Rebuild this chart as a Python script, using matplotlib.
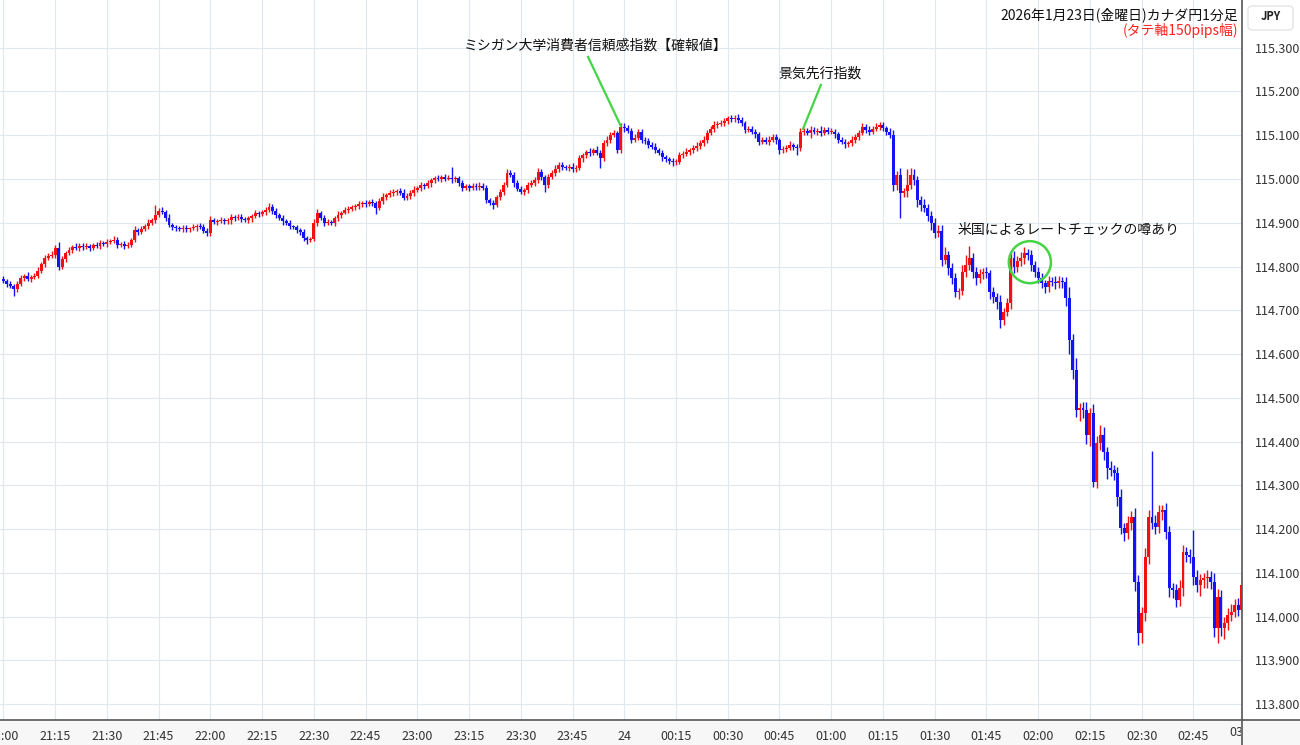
import numpy as np
import matplotlib
matplotlib.use("Agg")
import matplotlib.pyplot as plt
from matplotlib.patches import Ellipse, FancyBboxPatch, Rectangle
from matplotlib.lines import Line2D
from matplotlib.transforms import Bbox, TransformedBbox, blended_transform_factory

plt.rcParams['font.family'] = ['Noto Sans CJK JP', 'DejaVu Sans']

# CAD/JPY 1分足 2026-01-23 21:00 - 02:59 (終値, 画像から読み取り)
first_open = 114.772
close = [
    114.768, 114.760, 114.756, 114.748, 114.759, 114.774, 114.778, 114.772, 114.776, 114.779, 114.790, 114.806, 114.820, 114.824, 114.826,
    114.842, 114.800, 114.818, 114.830, 114.838, 114.845, 114.842, 114.848, 114.844, 114.846, 114.843, 114.850, 114.848, 114.854, 114.852,
    114.856, 114.859, 114.861, 114.850, 114.852, 114.847, 114.850, 114.860, 114.884, 114.880, 114.886, 114.892, 114.900, 114.906, 114.918,
    114.928, 114.925, 114.912, 114.896, 114.890, 114.888, 114.886, 114.889, 114.885, 114.887, 114.890, 114.893, 114.890, 114.882, 114.876,
    114.906, 114.902, 114.904, 114.907, 114.903, 114.906, 114.913, 114.910, 114.914, 114.908, 114.906, 114.910, 114.916, 114.922, 114.920,
    114.924, 114.930, 114.936, 114.928, 114.918, 114.912, 114.904, 114.900, 114.892, 114.890, 114.883, 114.879, 114.866, 114.861, 114.863,
    114.900, 114.922, 114.912, 114.900, 114.902, 114.900, 114.910, 114.918, 114.923, 114.930, 114.932, 114.936, 114.938, 114.942, 114.945,
    114.942, 114.947, 114.946, 114.934, 114.950, 114.960, 114.964, 114.968, 114.970, 114.973, 114.968, 114.957, 114.962, 114.968, 114.976,
    114.980, 114.986, 114.984, 114.990, 114.998, 115.002, 115.000, 115.004, 115.001, 115.003, 114.999, 115.002, 114.990, 114.980, 114.983,
    114.980, 114.984, 114.982, 114.985, 114.980, 114.952, 114.946, 114.940, 114.958, 114.970, 114.986, 115.014, 115.010, 114.990, 114.978,
    114.970, 114.974, 114.986, 114.992, 114.998, 115.016, 115.004, 114.986, 115.005, 115.014, 115.023, 115.032, 115.028, 115.025, 115.028,
    115.022, 115.025, 115.048, 115.054, 115.062, 115.060, 115.066, 115.060, 115.048, 115.082, 115.090, 115.100, 115.104, 115.066, 115.119,
    115.116, 115.110, 115.090, 115.094, 115.108, 115.090, 115.086, 115.078, 115.074, 115.066, 115.060, 115.050, 115.046, 115.042, 115.039,
    115.040, 115.055, 115.058, 115.062, 115.066, 115.070, 115.076, 115.082, 115.090, 115.105, 115.114, 115.123, 115.126, 115.128, 115.132,
    115.139, 115.136, 115.140, 115.135, 115.128, 115.112, 115.114, 115.108, 115.102, 115.085, 115.089, 115.085, 115.090, 115.096, 115.088,
    115.066, 115.068, 115.072, 115.078, 115.074, 115.070, 115.108, 115.110, 115.106, 115.112, 115.108, 115.110, 115.106, 115.112, 115.108,
    115.108, 115.102, 115.090, 115.085, 115.080, 115.082, 115.090, 115.096, 115.106, 115.119, 115.112, 115.108, 115.114, 115.118, 115.123,
    115.116, 115.108, 115.100, 114.986, 115.010, 114.968, 114.972, 114.986, 115.010, 114.998, 114.952, 114.940, 114.934, 114.916, 114.900,
    114.877, 114.882, 114.815, 114.826, 114.797, 114.774, 114.742, 114.744, 114.788, 114.804, 114.820, 114.788, 114.774, 114.782, 114.788,
    114.785, 114.742, 114.730, 114.720, 114.678, 114.696, 114.717, 114.820, 114.800, 114.812, 114.820, 114.830, 114.826, 114.804, 114.788,
    114.774, 114.762, 114.753, 114.768, 114.765, 114.762, 114.768, 114.764, 114.728, 114.632, 114.564, 114.472, 114.476, 114.472, 114.415,
    114.465, 114.308, 114.397, 114.415, 114.376, 114.340, 114.336, 114.328, 114.273, 114.203, 114.191, 114.214, 114.228, 114.080, 113.963,
    114.008, 114.136, 114.228, 114.214, 114.205, 114.240, 114.244, 114.193, 114.066, 114.060, 114.038, 114.066, 114.148, 114.141, 114.136,
    114.091, 114.072, 114.084, 114.088, 114.091, 114.080, 113.974, 114.045, 113.974, 113.986, 114.004, 114.011, 114.026, 114.016, 114.072,
]
# ヒゲの長さ (pips)
up_wick = [
    0.6, 0.4, 0.8, 0.5, 0.7, 0.6, 0.4, 0.9, 0.5, 0.6, 0.8, 0.5, 0.7, 0.6, 0.9,
    0.8, 1.4, 0.6, 0.5, 0.7, 0.4, 0.9, 0.6, 0.5, 0.8, 0.6, 0.4, 0.7, 0.6, 0.5,
    0.6, 0.5, 0.8, 0.6, 0.4, 0.7, 0.5, 0.6, 0.9, 0.5, 0.7, 0.6, 0.8, 0.5, 2.2,
    0.6, 0.8, 0.5, 0.7, 0.4, 0.6, 0.5, 0.7, 0.6, 0.4, 0.8, 0.5, 0.6, 0.7, 0.5,
    0.9, 0.6, 0.5, 0.7, 0.4, 0.6, 0.8, 0.5, 0.6, 0.7, 0.5, 0.6, 0.4, 0.8, 0.6,
    0.5, 0.7, 0.9, 0.6, 0.5, 0.4, 0.6, 0.5, 0.7, 0.4, 0.6, 0.5, 0.6, 0.4, 0.5,
    0.8, 0.9, 0.6, 0.5, 0.7, 0.4, 0.6, 0.8, 0.5, 0.6, 0.7, 0.5, 0.6, 0.8, 0.5,
    0.6, 0.5, 0.7, 0.4, 0.6, 0.8, 0.5, 0.6, 0.7, 0.5, 0.6, 0.9, 0.5, 0.6, 0.7,
    0.5, 0.8, 0.6, 0.7, 0.5, 0.6, 0.8, 0.5, 0.7, 0.6, 2.5, 0.6, 0.5, 0.7, 0.6,
    0.5, 0.7, 0.6, 0.8, 0.5, 0.6, 0.4, 0.7, 0.6, 0.8, 0.7, 0.9, 0.6, 0.5, 0.7,
    0.6, 0.5, 0.8, 0.6, 0.7, 0.9, 0.6, 0.5, 0.7, 0.6, 0.8, 0.7, 0.6, 0.5, 0.7,
    0.8, 0.6, 0.7, 0.6, 0.5, 0.8, 0.6, 1.0, 0.7, 0.6, 0.8, 0.7, 0.9, 0.6, 0.8,
    0.9, 0.7, 0.6, 0.8, 0.7, 0.6, 0.5, 0.7, 0.6, 0.8, 0.5, 0.7, 0.6, 0.5, 0.6,
    0.5, 0.7, 0.6, 0.8, 0.5, 0.7, 0.9, 0.6, 0.8, 0.7, 0.6, 0.9, 0.7, 0.6, 0.8,
    0.6, 0.8, 0.7, 0.9, 0.6, 0.5, 0.7, 0.8, 0.6, 0.5, 0.7, 0.6, 0.8, 0.7, 0.6,
    0.5, 0.7, 0.6, 0.8, 0.5, 0.6, 0.9, 0.7, 0.6, 0.8, 0.7, 0.6, 1.0, 0.7, 0.6,
    0.8, 0.6, 0.5, 0.7, 0.6, 0.5, 0.8, 0.6, 0.7, 1.0, 0.6, 0.8, 0.7, 0.9, 0.8,
    0.7, 0.6, 0.8, 1.2, 0.9, 1.6, 0.8, 3.8, 1.5, 1.2, 0.9, 1.0, 1.4, 0.8, 1.2,
    1.0, 1.4, 1.2, 1.8, 0.9, 1.0, 1.2, 0.8, 1.5, 2.2, 2.6, 1.1, 1.0, 1.3, 0.9,
    1.0, 0.8, 1.2, 0.9, 1.4, 1.0, 1.2, 1.1, 1.6, 1.2, 1.4, 1.5, 1.0, 1.2, 0.9,
    1.0, 1.2, 0.8, 1.1, 0.9, 1.3, 1.0, 0.9, 1.2, 2.6, 1.5, 2.8, 1.2, 1.5, 1.8,
    1.2, 2.0, 1.6, 2.4, 1.8, 1.2, 1.5, 1.0, 1.4, 1.8, 1.2, 1.6, 1.4, 2.0, 1.5,
    1.4, 2.0, 1.6, 15.0, 1.8, 1.5, 1.2, 1.6, 1.4, 1.2, 1.5, 1.8, 1.6, 1.2, 1.4,
    6.2, 1.6, 1.4, 1.2, 1.5, 1.3, 2.0, 1.8, 1.6, 1.4, 1.5, 1.8, 1.4, 1.6, 3.0,
]
dn_wick = [
    0.5, 0.7, 0.6, 1.6, 0.5, 0.4, 0.6, 0.5, 0.7, 0.4, 0.6, 0.5, 0.8, 0.6, 0.4,
    0.6, 0.8, 0.5, 0.7, 0.4, 0.6, 0.5, 0.7, 0.6, 0.4, 0.8, 0.5, 0.6, 0.7, 0.5,
    0.7, 0.5, 0.6, 0.8, 0.5, 0.7, 0.4, 0.6, 0.5, 0.8, 0.6, 0.5, 0.7, 0.4, 0.6,
    0.5, 0.6, 0.8, 0.5, 0.7, 0.6, 0.4, 0.7, 0.5, 0.6, 0.4, 0.8, 0.5, 0.6, 0.7,
    0.6, 0.5, 0.7, 0.4, 0.6, 0.5, 0.8, 0.6, 0.4, 0.7, 0.5, 0.6, 0.8, 0.5, 0.6,
    0.4, 0.6, 0.5, 0.7, 0.6, 0.5, 0.8, 0.6, 0.7, 0.5, 0.6, 0.8, 0.7, 0.9, 0.6,
    0.5, 0.7, 0.6, 0.8, 0.5, 0.6, 0.7, 0.5, 0.6, 0.4, 0.7, 0.5, 0.6, 0.7, 0.5,
    0.6, 0.4, 0.7, 1.5, 0.5, 0.6, 0.8, 0.5, 0.6, 0.7, 0.5, 0.6, 0.4, 0.7, 0.6,
    0.5, 0.7, 0.6, 0.5, 0.8, 0.6, 0.5, 0.7, 0.6, 0.4, 0.7, 0.6, 0.5, 0.8, 0.6,
    0.7, 0.5, 0.6, 0.8, 0.5, 0.7, 0.6, 0.9, 0.5, 0.6, 0.7, 0.5, 0.6, 0.8, 0.6,
    0.5, 0.7, 0.6, 0.5, 0.8, 0.6, 0.7, 1.6, 0.6, 0.5, 0.7, 0.6, 0.8, 0.5, 0.7,
    0.6, 0.7, 0.5, 0.8, 0.6, 0.7, 0.5, 0.6, 2.2, 0.7, 0.6, 0.8, 0.5, 0.7, 0.6,
    0.8, 0.6, 0.7, 0.5, 0.6, 0.8, 0.7, 0.6, 0.5, 0.7, 0.6, 0.8, 0.6, 0.7, 0.9,
    0.8, 0.6, 0.7, 0.5, 0.6, 0.7, 0.5, 0.8, 0.6, 0.7, 0.5, 0.6, 0.7, 0.5, 0.6,
    0.7, 0.6, 0.5, 0.8, 0.6, 0.7, 0.5, 0.6, 0.8, 0.7, 0.6, 0.5, 0.7, 0.6, 0.8,
    0.9, 0.6, 0.7, 0.5, 0.8, 1.4, 0.6, 0.7, 0.5, 1.2, 0.6, 0.8, 0.7, 0.6, 0.5,
    0.6, 0.8, 0.7, 0.6, 0.9, 0.7, 0.6, 0.8, 0.7, 0.6, 0.8, 0.7, 0.6, 0.5, 0.7,
    0.6, 0.8, 0.7, 1.4, 1.2, 5.8, 1.0, 1.2, 0.8, 1.1, 1.5, 1.2, 1.0, 1.3, 1.6,
    1.2, 1.0, 1.4, 1.0, 1.6, 1.3, 1.2, 1.5, 1.0, 1.2, 1.1, 1.4, 1.6, 1.2, 1.0,
    1.2, 1.6, 1.4, 1.8, 1.8, 1.2, 1.0, 1.3, 1.5, 1.2, 1.0, 1.4, 1.2, 1.5, 1.1,
    1.2, 1.0, 1.4, 1.2, 1.0, 1.3, 1.1, 1.2, 1.8, 3.2, 2.0, 1.6, 2.4, 1.8, 2.0,
    2.4, 1.2, 1.4, 1.6, 1.8, 2.6, 1.4, 1.6, 2.0, 1.5, 1.8, 1.4, 1.6, 2.2, 2.8,
    2.4, 1.8, 1.6, 1.4, 1.6, 1.4, 1.8, 1.6, 2.2, 1.8, 1.6, 1.4, 1.8, 1.6, 1.4,
    1.8, 1.6, 2.4, 1.8, 2.2, 1.6, 2.0, 3.4, 1.8, 2.4, 1.6, 1.4, 1.2, 1.5, 1.6,
]

tick_labels = ["21:00", "21:15", "21:30", "21:45", "22:00", "22:15", "22:30", "22:45",
               "23:00", "23:15", "23:30", "23:45", "24", "00:15", "00:30", "00:45",
               "01:00", "01:15", "01:30", "01:45", "02:00", "02:15", "02:30", "02:45"]

title1 = "2026年1月23日(金曜日)カナダ円1分足"
title2 = "(タテ軸150pips幅)"
note_michigan = "ミシガン大学消費者信頼感指数【確報値】"
note_leading = "景気先行指数"
note_check = "米国によるレートチェックの噂あり"

# ローソク足の計算
c = np.array(close)
o = np.array([first_open] + close[:-1])
hi = np.maximum(o, c) + np.array(up_wick) / 100
lo = np.minimum(o, c) - np.array(dn_wick) / 100
x = np.arange(len(c))
RED, BLUE = '#f21010', '#1414f2'
col = np.where(c >= o, RED, BLUE)

W, H = 1300, 745
fig = plt.figure(figsize=(W / 100, H / 100), dpi=100)
fig.patch.set_facecolor('white')
fig.add_artist(Rectangle((0, 0), 1, 25 / H, transform=fig.transFigure,
                         facecolor='#f7f7f7', edgecolor='none', zorder=0))
ax = fig.add_axes([0, 25 / H, 1242 / W, 720 / H])

ax.vlines(x, lo, hi, colors=col, linewidth=1.0, zorder=3)
ax.bar(x, np.maximum(np.abs(c - o), 0.0023), bottom=np.minimum(o, c), width=0.85,
       color=col, linewidth=0, zorder=4)

ax.set_xlim(-1.0, 359.1)
ax.set_ylim(113.764, 115.409)

ax.set_yticks(np.arange(113.8, 115.31, 0.1))
ax.set_yticklabels([f"{v:.3f}" for v in np.arange(113.8, 115.31, 0.1)])
ax.yaxis.tick_right()
ax.set_xticks(np.arange(0, 360, 15))
ax.set_xticklabels(tick_labels)
ax.tick_params(axis='both', length=0, labelsize=9, colors='#333333')
ax.tick_params(axis='x', pad=7)
ax.tick_params(axis='y', pad=9)
ax.grid(True, color='#dfe7ef', linewidth=0.8, zorder=0)
ax.set_axisbelow(True)
for s in ['left', 'top', 'right', 'bottom']:
    ax.spines[s].set_visible(False)

# 枠線 (右と下)
fig.add_artist(Line2D([1242 / W, 1242 / W], [0, 1], transform=fig.transFigure,
                      color='#555555', linewidth=1.2))
fig.add_artist(Line2D([0, 1], [25 / H, 25 / H], transform=fig.transFigure,
                      color='#555555', linewidth=1.2))

# 右端の 03:00 (切れた表示)
t = ax.text(360, (H - 732) / H, "03:00",
            transform=blended_transform_factory(ax.transData, fig.transFigure),
            ha='center', va='center', fontsize=9, color='#333333')
t.set_clip_box(TransformedBbox(Bbox([[0, 0], [1241 / W, 1]]), fig.transFigure))
t.set_clip_on(True)

# JPY ラベル
fig.add_artist(FancyBboxPatch((1248 / W, (H - 30) / H), 45 / W, 24 / H,
                              boxstyle='round,pad=0,rounding_size=0.004',
                              transform=fig.transFigure, facecolor='white',
                              edgecolor='#dddddd', linewidth=0.8))
fig.text(1270.5 / W, (H - 17) / H, "JPY", ha='center', va='center', fontsize=8,
         color='#222222', fontweight='bold')

# タイトル
fig.text(1238 / W, (H - 15) / H, title1, ha='right', va='center', fontsize=10, color='#111111')
fig.text(1238 / W, (H - 31) / H, title2, ha='right', va='center', fontsize=10, color='#ff2020')

# 注釈
GREEN = '#44d444'
ax.text(171.8, 115.304, note_michigan, ha='center', va='center', fontsize=10, color='#111111')
ax.plot([169.5, 179.0], [115.279, 115.121], color=GREEN, linewidth=1.6, zorder=5)
ax.text(236.7, 115.240, note_leading, ha='center', va='center', fontsize=10, color='#111111')
ax.plot([237.0, 231.8], [115.215, 115.114], color=GREEN, linewidth=1.6, zorder=5)
ax.text(308.9, 114.883, note_check, ha='center', va='center', fontsize=10, color='#111111')
ax.add_patch(Ellipse((297.6, 114.810), 12.2, 0.096, fill=False, edgecolor=GREEN,
                     linewidth=1.8, zorder=5))

fig.savefig('out.png', dpi=100)
